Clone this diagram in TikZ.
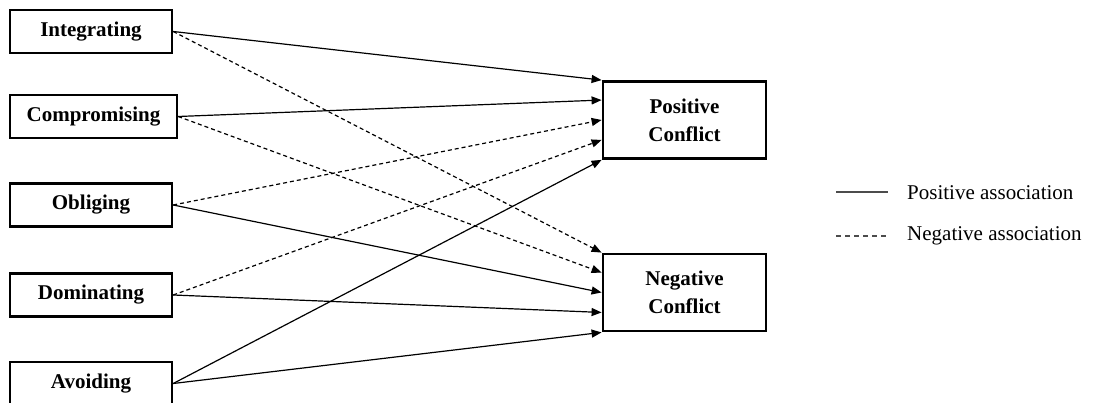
\documentclass[tikz,border=0pt]{standalone}
\usepackage{fontspec}
\setmainfont{Liberation Serif}
\usetikzlibrary{arrows.meta,calc}
\begin{document}
\begin{tikzpicture}[x=1pt,y=-1pt,
  leftbox/.style={draw,line width=2.4pt,rectangle,inner sep=0pt,minimum height=43pt,
    font=\bfseries\fontsize{21}{28}\selectfont},
  rightbox/.style={draw,line width=2.8pt,rectangle,inner sep=0pt,minimum width=163pt,minimum height=77pt,
    align=center,font=\bfseries\fontsize{21}{28}\selectfont},
  posline/.style={line width=1.2pt,-{Triangle[length=10pt,width=8pt]}},
  negline/.style={line width=1.2pt,dash pattern=on 4pt off 3pt,-{Triangle[length=10pt,width=8pt]}},
  legtext/.style={anchor=west,inner sep=0pt,font=\fontsize{21}{25}\selectfont}]
\useasboundingbox (0,0) rectangle (1093,403);
\clip (0,0) rectangle (1093,403);
\fill[white] (0,0) rectangle (1093,403);

\node[leftbox,minimum width=162pt] (int) at (91,31.5) {Integrating};
\node[leftbox,minimum width=167pt] (com) at (93.5,116.5) {Compromising};
\node[leftbox,minimum width=162pt] (obl) at (91,205) {Obliging};
\node[leftbox,minimum width=162pt] (dom) at (91,295) {Dominating};
\node[leftbox,minimum width=162pt] (avo) at (91,383.5) {Avoiding};

\node[rightbox] (pc) at (684.5,120) {Positive\\Conflict};
\node[rightbox] (nc) at (684.5,292.5) {Negative\\Conflict};

\coordinate (p0) at ($(pc.north west)!0!(pc.south west)$);
\coordinate (p1) at ($(pc.north west)!0.25!(pc.south west)$);
\coordinate (p2) at ($(pc.north west)!0.5!(pc.south west)$);
\coordinate (p3) at ($(pc.north west)!0.75!(pc.south west)$);
\coordinate (p4) at ($(pc.north west)!1!(pc.south west)$);
\coordinate (n0) at ($(nc.north west)!0!(nc.south west)$);
\coordinate (n1) at ($(nc.north west)!0.25!(nc.south west)$);
\coordinate (n2) at ($(nc.north west)!0.5!(nc.south west)$);
\coordinate (n3) at ($(nc.north west)!0.75!(nc.south west)$);
\coordinate (n4) at ($(nc.north west)!1!(nc.south west)$);

\draw[posline] (int.east) -- (p0);
\draw[negline] (int.east) -- (n0);
\draw[posline] (com.east) -- (p1);
\draw[negline] (com.east) -- (n1);
\draw[negline] (obl.east) -- (p2);
\draw[posline] (obl.east) -- (n2);
\draw[negline] (dom.east) -- (p3);
\draw[posline] (dom.east) -- (n3);
\draw[posline] (avo.east) -- (p4);
\draw[posline] (avo.east) -- (n4);

\coordinate (la1) at (836,192);
\coordinate (lb1) at (888,192);
\coordinate (la2) at (836,236);
\coordinate (lb2) at (888,236);
\draw[line width=1.2pt,black!70] (la1) -- (lb1);
\draw[line width=1.2pt,black!70,dash pattern=on 5pt off 4pt] (la2) -- (lb2);
\node[legtext] (lt1) at (907,193) {Positive association};
\node[legtext] (lt2) at (907,236) {Negative association};
\end{tikzpicture}
\end{document}
